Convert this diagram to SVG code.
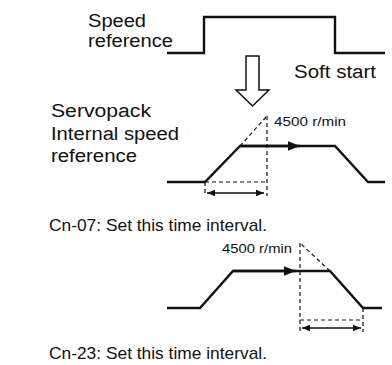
<svg xmlns="http://www.w3.org/2000/svg" width="392" height="365" viewBox="0 0 392 365">
<style>
text{font-family:"Liberation Sans",Arial,sans-serif;fill:#111}
.lbl{font-size:18px}
.cap{font-size:17px}
.sm{font-size:13px}
.solid{fill:none;stroke:#111;stroke-width:2.4;stroke-linejoin:miter}
.thin{fill:none;stroke:#111;stroke-width:1.6}
.dash{fill:none;stroke:#111;stroke-width:1.2;stroke-dasharray:4 3}
</style>
<defs>
<marker id="ah" viewBox="0 0 10 10" refX="10" refY="5" markerWidth="5" markerHeight="5" orient="auto-start-reverse">
<path d="M0,1 L10,5 L0,9 z" fill="#111"/>
</marker>
</defs>
<rect width="392" height="365" fill="#fff"/>
<g id="speed-reference">
<text class="lbl" x="88" y="27" textLength="58" lengthAdjust="spacingAndGlyphs">Speed</text>
<text class="lbl" x="88" y="47" textLength="85" lengthAdjust="spacingAndGlyphs">reference</text>
<path class="solid" d="M167,53 H204 V17 H335 V53 H385" stroke-width="2"/>
<text class="lbl" x="294" y="78" textLength="82" lengthAdjust="spacingAndGlyphs">Soft start</text>
</g>
<g id="hollow-arrow">
<path d="M246,56 H259 V90 H269 L252.5,106 L236,90 H246 Z" fill="#fff" stroke="#111" stroke-width="1.5"/>
</g>
<g id="servopack">
<text class="lbl" x="51" y="117" textLength="100" lengthAdjust="spacingAndGlyphs">Servopack</text>
<text class="lbl" x="51" y="140" textLength="128" lengthAdjust="spacingAndGlyphs">Internal speed</text>
<text class="lbl" x="51" y="162" textLength="86" lengthAdjust="spacingAndGlyphs">reference</text>
</g>
<g id="trapezoid-1">
<path class="solid" d="M167,182 H205 L240,146 H335 L368,182 H385"/>
<text class="sm" x="274" y="126" textLength="72" lengthAdjust="spacingAndGlyphs">4500 r/min</text>
</g>
<g id="trapezoid-2">
<path class="solid" d="M167,308 H200 L233,271 H330 L363,308 H382"/>
<text class="sm" x="222" y="253" textLength="70" lengthAdjust="spacingAndGlyphs">4500 r/min</text>
</g>
<g id="connectors">
<path d="M240,146 H300" fill="none" stroke="#111" stroke-width="2.4" marker-end="url(#ah)"/>
<path class="dash" d="M240,146 L267,116"/>
<path class="dash" d="M267,116 V196"/>
<path class="dash" d="M205,182 H267"/>
<path class="dash" d="M205,182 V196"/>
<path class="thin" d="M207,193 H264" marker-start="url(#ah)" marker-end="url(#ah)"/>
<path d="M233,271 H296" fill="none" stroke="#111" stroke-width="2.4" marker-end="url(#ah)"/>
<path class="dash" d="M330,271 L300,243"/>
<path class="dash" d="M300,243 V332"/>
<path class="dash" d="M300,320 H363"/>
<path class="dash" d="M363,308 V332"/>
<path class="thin" d="M302,328 H361" marker-start="url(#ah)" marker-end="url(#ah)"/>
</g>
<g id="captions">
<text class="cap" x="49" y="231" textLength="218" lengthAdjust="spacingAndGlyphs">Cn-07: Set this time interval.</text>
<text class="cap" x="49" y="359" textLength="218" lengthAdjust="spacingAndGlyphs">Cn-23: Set this time interval.</text>
</g>
</svg>
